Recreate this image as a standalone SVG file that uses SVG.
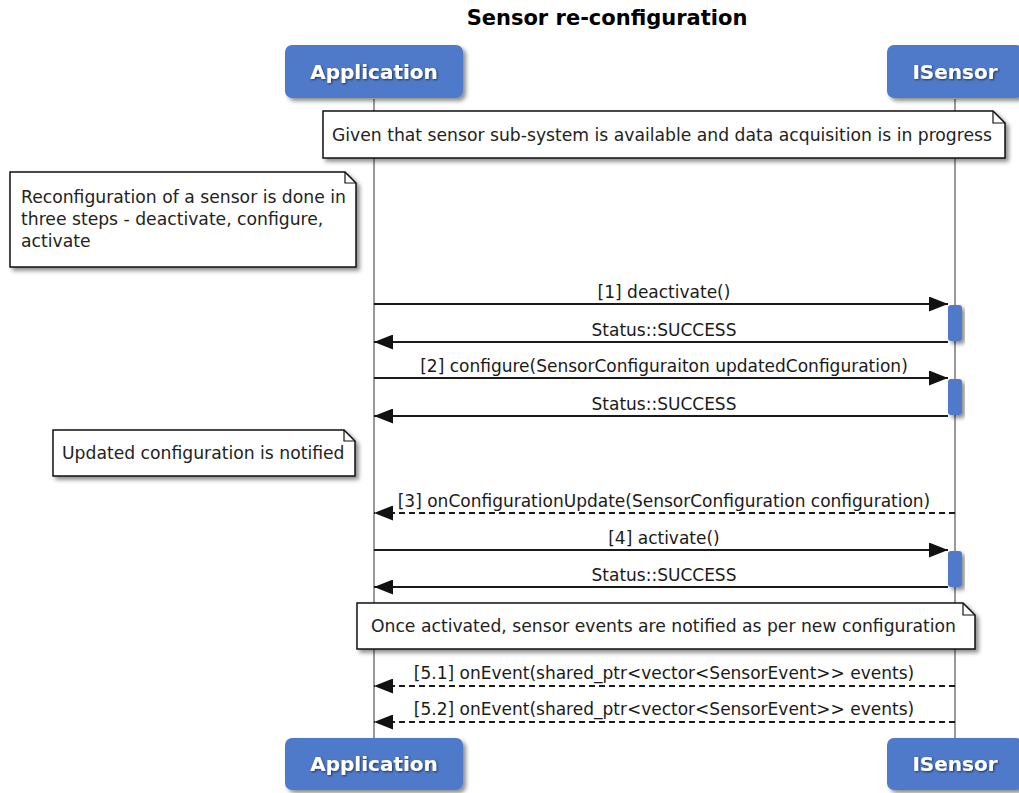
<svg xmlns="http://www.w3.org/2000/svg" width="1019" height="793" viewBox="0 0 1019 793">
<defs>
<filter id="sh" x="-10%" y="-10%" width="130%" height="140%">
<feDropShadow dx="3" dy="3" stdDeviation="2" flood-color="#000" flood-opacity="0.45"/>
</filter>
<filter id="tsh" x="-10%" y="-20%" width="130%" height="150%">
<feDropShadow dx="1" dy="1" stdDeviation="1" flood-color="#000" flood-opacity="0.6"/>
</filter>
<marker id="ah" viewBox="0 0 19 15" refX="19" refY="7.5" markerWidth="19" markerHeight="15" markerUnits="userSpaceOnUse" orient="auto">
<path d="M0,0 L19,7.5 L0,15 Z" fill="#111"/>
</marker>
</defs>
<style>
.title{font-family:"DejaVu Sans",sans-serif;font-weight:bold;font-size:21px;fill:#000}
.pbox{fill:#507AC9;filter:url(#sh)}
.ptxt{font-family:"DejaVu Sans",sans-serif;font-weight:bold;font-size:20px;fill:#fff;text-anchor:middle;filter:url(#tsh)}
.life{stroke:#999;stroke-width:2;fill:none}
.act{fill:#507AC9;filter:url(#sh)}
.note{fill:#fff;stroke:#111;stroke-width:1.5;filter:url(#sh)}
.fold{fill:none;stroke:#111;stroke-width:1.2}
.ntxt{font-family:"DejaVu Sans",sans-serif;font-size:17.2px;fill:#222}
.msg{stroke:#1a1a1a;stroke-width:2;fill:none;marker-end:url(#ah)}
.dash{stroke-dasharray:6,4}
.mtxt{font-family:"DejaVu Sans",sans-serif;font-size:17px;fill:#1a1a1a;text-anchor:middle}
</style>
<rect width="1019" height="793" fill="#fff"/>
<text class="title" x="607" y="25" text-anchor="middle">Sensor re-configuration</text>

<g id="lifelines">
<line class="life" x1="374" y1="99" x2="374" y2="738"/>
<line class="life" x1="955" y1="99" x2="955" y2="738"/>
</g>

<g id="p-application-top">
<rect class="pbox" x="285" y="45" width="178" height="53" rx="7"/>
<text class="ptxt" x="374" y="79">Application</text>
</g>
<g id="p-isensor-top">
<rect class="pbox" x="887" y="45" width="136" height="53" rx="7"/>
<text class="ptxt" x="955" y="79">ISensor</text>
</g>
<g id="p-application-bottom">
<rect class="pbox" x="285" y="738" width="178" height="52" rx="7"/>
<text class="ptxt" x="374" y="771">Application</text>
</g>
<g id="p-isensor-bottom">
<rect class="pbox" x="887" y="738" width="136" height="52" rx="7"/>
<text class="ptxt" x="955" y="771">ISensor</text>
</g>

<g id="note-given">
<path class="note" d="M323,111 L993,111 L1005,123 L1005,158 L323,158 Z"/>
<path class="fold" d="M993,111 L993,123 L1005,123"/>
<text class="ntxt" x="332" y="141">Given that sensor sub-system is available and data acquisition is in progress</text>
</g>
<g id="note-reconfig">
<path class="note" d="M10,172 L345,172 L356,183 L356,267 L10,267 Z"/>
<path class="fold" d="M345,172 L345,183 L356,183"/>
<text class="ntxt" x="21" y="203">Reconfiguration of a sensor is done in</text>
<text class="ntxt" x="21" y="225">three steps - deactivate, configure,</text>
<text class="ntxt" x="21" y="247">activate</text>
</g>
<g id="note-updated">
<path class="note" d="M53,430 L344,430 L355,441 L355,476 L53,476 Z"/>
<path class="fold" d="M344,430 L344,441 L355,441"/>
<text class="ntxt" x="62" y="459">Updated configuration is notified</text>
</g>
<g id="note-once">
<path class="note" d="M357,603 L963,603 L975,615 L975,649 L357,649 Z"/>
<path class="fold" d="M963,603 L963,615 L975,615"/>
<text class="ntxt" x="371" y="632">Once activated, sensor events are notified as per new configuration</text>
</g>

<g id="activations">
<rect class="act" x="948" y="305" width="14" height="36" rx="3"/>
<rect class="act" x="948" y="379" width="14" height="36" rx="3"/>
<rect class="act" x="948" y="551" width="14" height="36" rx="3"/>
</g>

<g id="connectors">
<line class="msg" x1="374" y1="304" x2="948" y2="304"/>
<text class="mtxt" x="664" y="298">[1] deactivate()</text>
<line class="msg" x1="948" y1="342" x2="374" y2="342"/>
<text class="mtxt" x="664" y="336">Status::SUCCESS</text>
<line class="msg" x1="374" y1="378" x2="948" y2="378"/>
<text class="mtxt" x="664" y="372">[2] configure(SensorConfiguraiton updatedConfiguration)</text>
<line class="msg" x1="948" y1="416" x2="374" y2="416"/>
<text class="mtxt" x="664" y="410">Status::SUCCESS</text>
<line class="msg dash" x1="955" y1="513" x2="374" y2="513"/>
<text class="mtxt" x="664" y="507">[3] onConfigurationUpdate(SensorConfiguration configuration)</text>
<line class="msg" x1="374" y1="550" x2="948" y2="550"/>
<text class="mtxt" x="664" y="544">[4] activate()</text>
<line class="msg" x1="948" y1="587" x2="374" y2="587"/>
<text class="mtxt" x="664" y="581">Status::SUCCESS</text>
<line class="msg dash" x1="955" y1="686" x2="374" y2="686"/>
<text class="mtxt" x="664" y="679">[5.1] onEvent(shared_ptr&lt;vector&lt;SensorEvent&gt;&gt; events)</text>
<line class="msg dash" x1="955" y1="722" x2="374" y2="722"/>
<text class="mtxt" x="664" y="715">[5.2] onEvent(shared_ptr&lt;vector&lt;SensorEvent&gt;&gt; events)</text>
</g>
</svg>
